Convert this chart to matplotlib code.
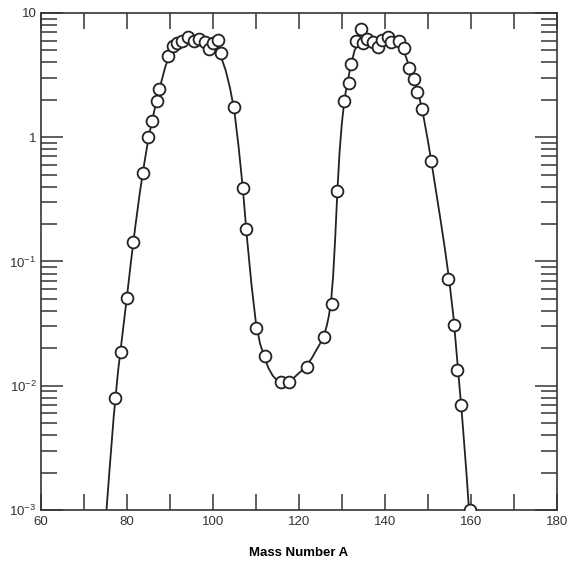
import math
import matplotlib
matplotlib.use('Agg')
import matplotlib.pyplot as plt
from matplotlib.ticker import FixedLocator, LogLocator, FuncFormatter, NullFormatter

plt.rcParams['font.family'] = ['Liberation Sans', 'DejaVu Sans']
plt.rcParams['mathtext.default'] = 'regular'

# measured yields (open circles)
mass_pts = [77.3, 78.6, 80.0, 81.5, 83.7, 85.0, 85.8, 87.0, 87.4, 89.7, 90.7, 91.8,
            92.8, 94.3, 95.7, 96.9, 98.2, 99.1, 100.1, 101.3, 101.9, 104.95, 107.0,
            107.7, 110.1, 112.2, 115.9, 117.7, 121.9, 125.8, 127.7, 128.9, 130.5,
            131.8, 132.2, 133.4, 134.4, 135.0, 135.9, 137.2, 138.5, 139.3, 140.65,
            141.5, 143.4, 144.5, 145.6, 146.8, 147.6, 148.7, 150.8, 154.7, 156.1,
            156.8, 157.7, 159.9]
yield_pts = [0.0079, 0.0188, 0.0506, 0.143, 0.513, 1.0, 1.36, 1.95, 2.45, 4.47, 5.40,
             5.70, 5.98, 6.37, 5.95, 6.21, 5.81, 5.13, 5.70, 6.06, 4.74, 1.74, 0.391,
             0.183, 0.0292, 0.0175, 0.0108, 0.0108, 0.0141, 0.0247, 0.0453, 0.369,
             1.97, 2.71, 3.92, 5.98, 7.41, 5.75, 6.14, 5.87, 5.33, 6.06, 6.45, 5.81,
             5.97, 5.20, 3.63, 2.93, 2.31, 1.69, 0.647, 0.0723, 0.0308, 0.0134,
             0.0070, 0.001]

# fitted curve
mass_fit = [75.3, 76, 77, 78, 79, 80, 81, 82, 83, 84, 85, 86, 87, 88, 89, 90, 91, 92,
            93, 94, 95, 96, 97, 98, 99, 100, 101, 102, 103, 104, 105, 106, 107, 108,
            109, 110, 111, 112, 113, 114, 115, 116, 117, 118, 119, 120, 121, 122, 123,
            124, 125, 126, 126.5, 127, 127.5, 128, 128.5, 129, 129.5, 130, 130.5, 131,
            132, 133, 134, 135, 136, 137, 138, 139, 140, 141, 142, 143, 144, 145, 146,
            147, 148, 149, 150, 151, 152, 153, 154, 155, 156, 157, 158, 159, 159.6]
yield_fit = [0.001, 0.00209, 0.00575, 0.0132, 0.0257, 0.0501, 0.100, 0.191, 0.347,
             0.589, 0.955, 1.41, 2.00, 2.75, 3.72, 4.57, 5.25, 5.75, 6.10, 6.31, 6.38,
             6.31, 6.17, 5.96, 5.69, 5.37, 5.01, 4.37, 3.47, 2.51, 1.66, 0.851, 0.389,
             0.151, 0.0661, 0.0331, 0.0219, 0.0170, 0.0138, 0.0120, 0.0110, 0.0105,
             0.0105, 0.0110, 0.0117, 0.0126, 0.0135, 0.0148, 0.0166, 0.0191, 0.0219,
             0.0263, 0.0302, 0.0363, 0.0468, 0.0759, 0.158, 0.372, 0.759, 1.26, 1.82,
             2.40, 3.63, 5.01, 5.75, 6.03, 6.10, 6.17, 6.17, 6.17, 6.10, 6.03, 5.96,
             5.82, 5.37, 4.37, 3.47, 2.75, 2.14, 1.48, 0.955, 0.589, 0.355, 0.214,
             0.126, 0.0708, 0.0355, 0.0141, 0.00562, 0.00200, 0.001]

x_labels = [60, 80, 100, 120, 140, 160, 180]
x_minor = [70, 90, 110, 130, 150, 170]

fig = plt.figure(figsize=(5.78, 5.62), dpi=100)
ax = fig.add_axes([0.0704, 0.0925, 0.8928, 0.8844])

ax.plot(mass_fit, yield_fit, color='#222222', lw=1.3, zorder=2)
ax.plot(mass_pts, yield_pts, 'o', ms=8.5, mfc='white', mec='#222222', mew=1.3, zorder=3)

ax.set_yscale('log')
ax.set_xlim(60, 180)
ax.set_ylim(1e-3, 10)

ax.xaxis.set_major_locator(FixedLocator(x_labels))
ax.xaxis.set_minor_locator(FixedLocator(x_minor))
ax.yaxis.set_major_locator(LogLocator(base=10))
ax.yaxis.set_minor_locator(LogLocator(base=10, subs=range(2, 10)))
ax.yaxis.set_minor_formatter(NullFormatter())

def ylab(v, pos):
    if v >= 10:
        return '10'
    if v >= 1:
        return '1'
    e = int(round(math.log10(v)))
    return '10$^{%d}$' % e

ax.yaxis.set_major_formatter(FuncFormatter(ylab))

tick_col = '#444444'
ax.tick_params(axis='both', which='both', direction='in', top=True, right=True,
               color=tick_col, width=1.2, labelsize=9.5, labelcolor='#333333')
ax.tick_params(axis='x', which='both', length=11.5, pad=4)
ax.tick_params(axis='y', which='major', length=16, pad=3)
ax.tick_params(axis='y', which='minor', length=11.5)

for s in ax.spines.values():
    s.set_color('#333333')
    s.set_linewidth(1.2)

ax.set_xlabel('Mass Number A', fontsize=9.5, fontweight='bold', labelpad=14)

fig.savefig('out.png', dpi=100)
